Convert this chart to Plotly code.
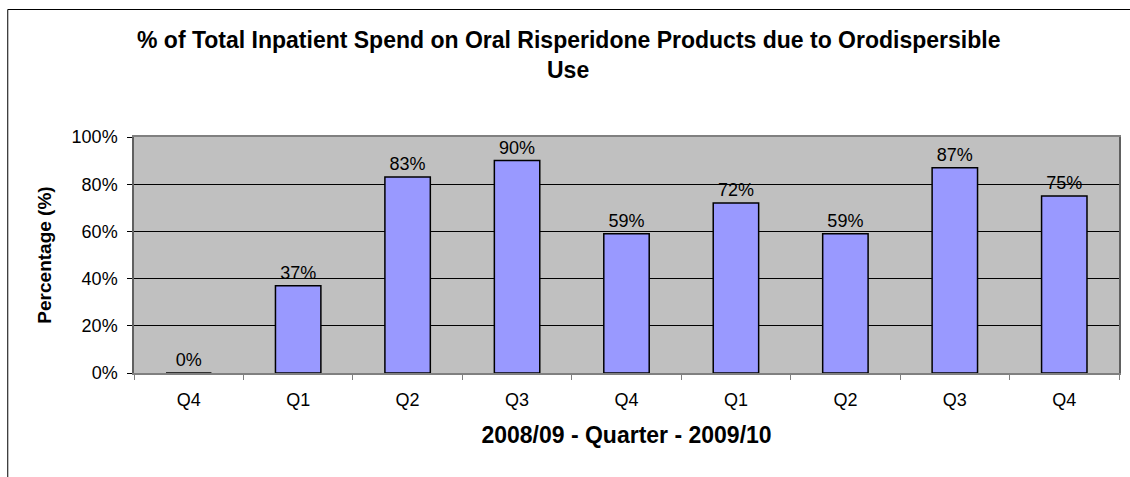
import plotly.graph_objects as go

categories = ["Q4", "Q1", "Q2", "Q3", "Q4 ", "Q1 ", "Q2 ", "Q3 ", "Q4  "]
tick_labels = ["Q4", "Q1", "Q2", "Q3", "Q4", "Q1", "Q2", "Q3", "Q4"]
values = [0, 37, 83, 90, 59, 72, 59, 87, 75]
y_ticks = [0, 20, 40, 60, 80, 100]
y_tick_labels = ["0%", "20%", "40%", "60%", "80%", "100%"]
title_line1 = "% of Total Inpatient Spend on Oral Risperidone Products due to Orodispersible"
title_line2 = "Use"
x_title = "2008/09 - Quarter - 2009/10"
y_title = "Percentage (%)"

FONT = "Liberation Sans, Arial, sans-serif"
W, H = 1130, 477
L, R, T, B = 134, 9, 137, 104
PH = H - T - B
PW = W - L - R

def px_to_py(py):
    return (H - B - py) / PH

def px_to_px(px):
    return (px - L) / PW

fig = go.Figure()
fig.add_trace(go.Bar(
    x=categories, y=values,
    marker=dict(color="#9999FF", line=dict(color="black", width=1.5)),
    text=[f"{v}%" for v in values],
    textposition="outside",
    textfont=dict(family=FONT, size=18, color="black"),
    cliponaxis=False,
    width=0.415,
))

fig.update_layout(
    width=W, height=H,
    margin=dict(l=L, r=R, t=T, b=B),
    paper_bgcolor="white",
    plot_bgcolor="#C0C0C0",
    showlegend=False,
    font=dict(family=FONT, size=18, color="black"),
)
fig.update_xaxes(
    tickmode="array", tickvals=categories, ticktext=tick_labels,
    tickfont=dict(family=FONT, size=18, color="black"),
    ticks="outside", ticklen=5, tickcolor="#808080",
    tickson="boundaries",
    ticklabelstandoff=10,
    showline=True, linecolor="#808080", linewidth=1.5,
    mirror=True,
    showgrid=False,
    title=dict(text=f"<b>{x_title}</b>", font=dict(family=FONT, size=23, color="black"), standoff=18),
)
fig.update_yaxes(
    range=[0, 100],
    tickmode="array", tickvals=y_ticks, ticktext=y_tick_labels,
    tickfont=dict(family=FONT, size=18, color="black"),
    ticks="outside", ticklen=5, tickcolor="black",
    ticklabelstandoff=6,
    showline=True, linecolor="#606060", linewidth=1.5, mirror=True,
    showgrid=True, gridcolor="black", gridwidth=1,
    zeroline=False,
    title=dict(text=f"<b>{y_title}</b>", font=dict(family=FONT, size=19, color="black"), standoff=15),
)

# Title lines
fig.add_annotation(text=f"<b>{title_line1}</b>", xref="paper", yref="paper",
                   x=px_to_px(569), y=px_to_py(40), showarrow=False,
                   font=dict(family=FONT, size=23, color="black"), xanchor="center", yanchor="middle")
fig.add_annotation(text=f"<b>{title_line2}</b>", xref="paper", yref="paper",
                   x=px_to_px(569), y=px_to_py(70), showarrow=False,
                   font=dict(family=FONT, size=23, color="black"), xanchor="center", yanchor="middle")

# Outer chart border (left and top edges visible)
fig.add_shape(type="line", xref="paper", yref="paper",
              x0=px_to_px(7.5), y0=px_to_py(9.5), x1=px_to_px(W + 5), y1=px_to_py(9.5),
              line=dict(color="black", width=1))
fig.add_shape(type="line", xref="paper", yref="paper",
              x0=px_to_px(7.5), y0=px_to_py(9.5), x1=px_to_px(7.5), y1=px_to_py(H + 5),
              line=dict(color="black", width=1))

fig.write_html("out.html")
